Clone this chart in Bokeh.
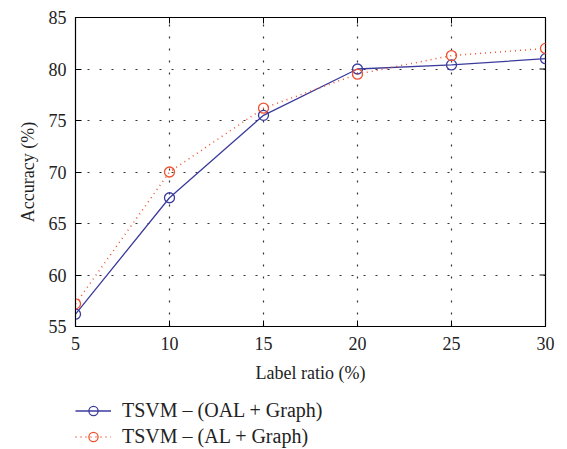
import math
from bokeh.plotting import figure
from bokeh.layouts import column
from bokeh.models import Legend, LegendItem, FixedTicker, Range1d
from bokeh.embed import file_html
from bokeh.resources import INLINE

label_ratio = [5, 10, 15, 20, 25, 30]
oal_graph = [56.2, 67.5, 75.5, 80.0, 80.4, 81.0]
al_graph = [57.2, 70.0, 76.2, 79.5, 81.3, 82.0]
x_ticks = [5, 10, 15, 20, 25, 30]
y_ticks = [55, 60, 65, 70, 75, 80, 85]
series_names = ["TSVM \u2013 (OAL + Graph)", "TSVM \u2013 (AL + Graph)"]

FONT = "Liberation Serif"
BLUE = "#3b3b9e"
RED = "#f0502c"

p = figure(width=567, height=385, output_backend="svg", toolbar_location=None,
           x_range=Range1d(5, 30), y_range=Range1d(55, 85),
           min_border_left=75, min_border_right=22, min_border_top=17,
           min_border_bottom=10)
p.background_fill_color = "white"
p.border_fill_color = "white"
p.outline_line_color = "black"
p.outline_line_width = 1.2

for ax in (p.xaxis[0], p.yaxis[0]):
    ax.major_tick_in = 6
    ax.major_tick_out = 0
    ax.minor_tick_line_color = None
    ax.axis_line_color = "black"
    ax.major_tick_line_color = "black"
    ax.major_label_text_font = FONT
    ax.major_label_text_font_size = "18px"
    ax.major_label_text_color = "#222222"
    ax.axis_label_text_font = FONT
    ax.axis_label_text_font_size = "18px"
    ax.axis_label_text_font_style = "normal"
    ax.axis_label_text_color = "#222222"

p.xaxis[0].ticker = FixedTicker(ticks=x_ticks)
p.yaxis[0].ticker = FixedTicker(ticks=y_ticks)
p.xaxis[0].axis_label = "Label ratio (%)"
p.yaxis[0].axis_label = "Accuracy (%)"
p.xaxis[0].major_label_standoff = 10
p.yaxis[0].major_label_standoff = 9
p.xaxis[0].axis_label_standoff = 10
p.yaxis[0].axis_label_standoff = 8

# inward ticks on the top and right edges (half of each dash is clipped by the frame)
p.scatter(x_ticks, [p.y_range.end] * len(x_ticks), marker="dash", angle=math.pi / 2,
          size=12, line_color="black", line_width=1)
p.scatter([p.x_range.end] * len(y_ticks), y_ticks, marker="dash",
          size=12, line_color="black", line_width=1)

p.xgrid.ticker = FixedTicker(ticks=x_ticks)
p.ygrid.ticker = FixedTicker(ticks=y_ticks)
for g in (p.xgrid[0], p.ygrid[0]):
    g.grid_line_color = "#333333"
    g.grid_line_dash = "2 10"
    g.grid_line_width = 1.2

line_styles = [dict(line_color=BLUE, line_width=1.3),
               dict(line_color=RED, line_width=1.5, line_dash="1 4")]
mark_styles = [dict(marker="circle", size=10, fill_color=None, line_color=BLUE, line_width=1.3),
               dict(marker="circle", size=10, fill_color=None, line_color=RED, line_width=1.3)]

for ys, ls, ms in zip([oal_graph, al_graph], line_styles, mark_styles):
    p.line(label_ratio, ys, **ls)
    p.scatter(label_ratio, ys, **ms)

# legend drawn in its own strip below the chart (its renderers lie outside the strip's ranges)
leg = figure(width=567, height=64, output_backend="svg", toolbar_location=None,
             x_range=Range1d(-100, -99), y_range=Range1d(-100, -99),
             min_border_left=75, min_border_right=0, min_border_top=14, min_border_bottom=0)
leg.axis.visible = False
leg.grid.visible = False
leg.outline_line_color = None
leg.background_fill_color = "white"
leg.border_fill_color = "white"

items = []
for name, ys, ls, ms in zip(series_names, [oal_graph, al_graph], line_styles, mark_styles):
    lr = leg.line(label_ratio, ys, **ls)
    cr = leg.scatter(label_ratio, ys, **ms)
    items.append(LegendItem(label=name, renderers=[lr, cr]))

legend = Legend(items=items, location="top_left", orientation="vertical",
                border_line_color=None, background_fill_alpha=0,
                margin=0, padding=0, spacing=3, glyph_width=36, glyph_height=23,
                label_standoff=11, label_text_font=FONT, label_text_font_size="20px",
                label_text_color="#222222", label_height=23)
leg.add_layout(legend)

layout = column(p, leg, spacing=0)
open("out.html", "w").write(file_html(layout, INLINE))
